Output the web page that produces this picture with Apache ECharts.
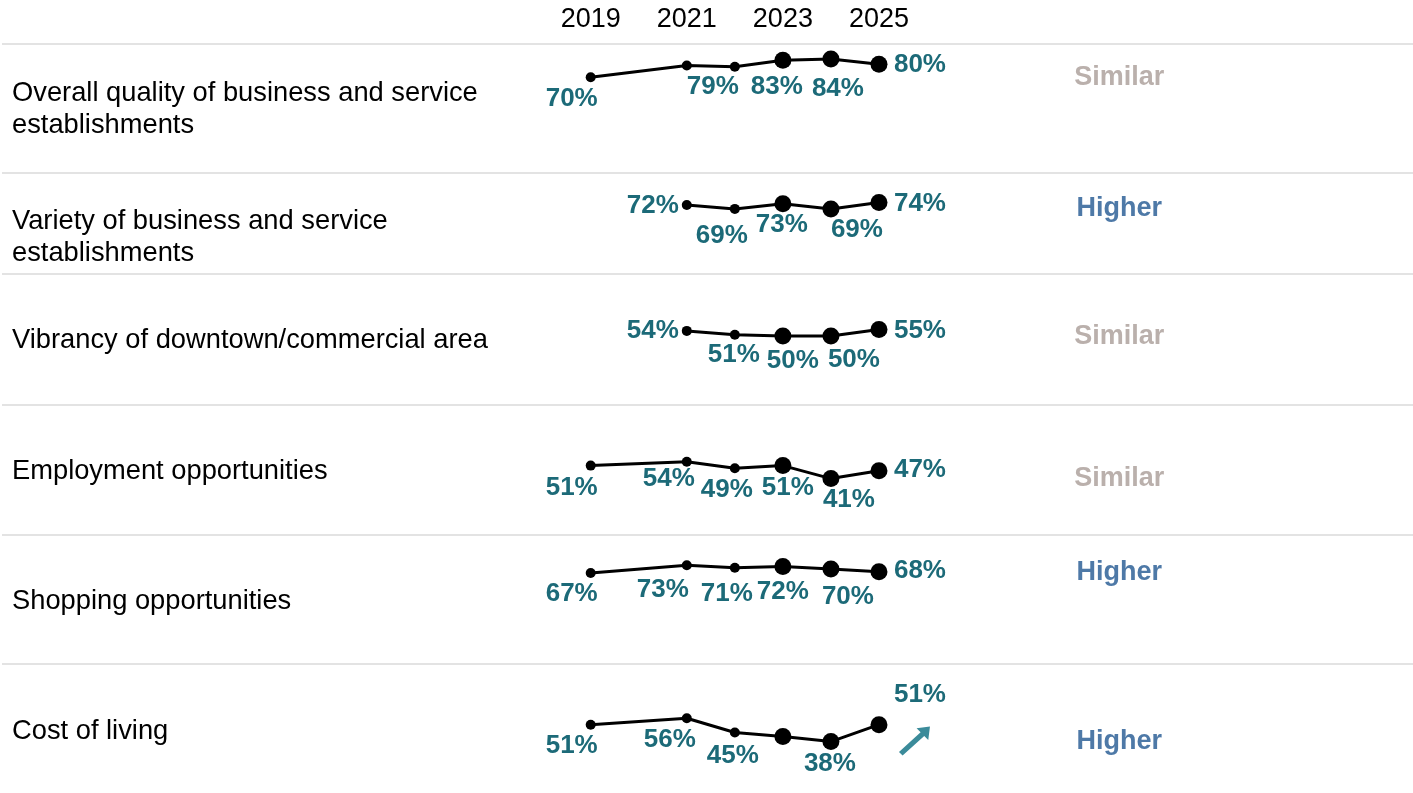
<!DOCTYPE html>
<html>
<head>
<meta charset="utf-8">
<script src="https://cdn.jsdelivr.net/npm/echarts@6/dist/echarts.min.js"></script>
<style>
  html, body { margin: 0; padding: 0; background: #fff; }
  #chart { width: 1413px; height: 793px; }
</style>
</head>
<body>
<div id="chart"></div>
<script>
// survey years (2020 not asked) and the year ticks printed on top
var years = [2019, 2021, 2022, 2023, 2024, 2025];
var yearTicks = [2019, 2021, 2023, 2025];

var items = [
  'Overall quality of business and service\nestablishments',
  'Variety of business and service\nestablishments',
  'Vibrancy of downtown/commercial area',
  'Employment opportunities',
  'Shopping opportunities',
  'Cost of living'
];

// % rating excellent/good, one value per survey year
var overallQuality = [70, 79, 78, 83, 84, 80];
var variety = [null, 72, 69, 73, 69, 74];
var vibrancy = [null, 54, 51, 50, 50, 55];
var employment = [51, 54, 49, 51, 41, 47];
var shopping = [67, 73, 71, 72, 70, 68];
var costOfLiving = [51, 56, 45, 42, 38, 51];
var rows = [overallQuality, variety, vibrancy, employment, shopping, costOfLiving];

// comparison to national benchmark
var comparison = ['Similar', 'Higher', 'Similar', 'Similar', 'Higher', 'Higher'];
var comparisonX = 2030;
// points whose value is not printed: [row, year index]
var unlabelled = [[0, 2], [5, 3]];
// trend arrow: [row, year]
var arrowAt = [5, 2025];

// --- layout ---
var font = '"Liberation Sans", Arial, Helvetica, sans-serif';
var valueColor = '#1c6a78';
var compColors = { Similar: '#bab0ac', Higher: '#4e79a7' };
var gridTops = [38.2, 168.6, 271.1, 401.9, 530.1, 661];
var ruleYs = [44, 173, 274, 405, 535, 664];
var textYs = [109.8, 237, 340, 471, 601, 731];
var labelOffsets = [
  [[-19, 22], [26, 21], null, [-6, 27], [7, 30], [41, 1]],
  [null, [-34, 1], [-13, 27], [-1, 21], [26, 21], [41, 1]],
  [null, [-34, 0], [-1, 20], [10, 25], [23, 24], [41, 1]],
  [[-19, 22], [-18, 17], [-8, 22], [5, 22], [18, 21], [41, -1]],
  [[-19, 21], [-24, 25], [-8, 26], [0, 25], [17, 28], [41, -1]],
  [[-19, 21], [-17, 22], [-2, 23], null, [-1, 22], [41, -30]]
];
var arrowPath = 'path://M0.2 25.2L21.7 5.7L17.7 1.6L31 0L29.3 13.3L25.3 9.3L3.8 28.8Z';

var chart = echarts.init(document.getElementById('chart'), null, { renderer: 'canvas' });

var grids = [], xAxes = [], yAxes = [], series = [], graphics = [];

rows.forEach(function(vals, r) {
  grids.push({ left: 590.7, width: 528.5, top: gridTops[r], height: 130 });
  xAxes.push({
    gridIndex: r, type: 'value', min: 2019, max: 2030, interval: 1,
    position: 'top', show: r === 0,
    axisLine: { show: false }, axisTick: { show: false }, splitLine: { show: false },
    axisLabel: {
      show: r === 0, margin: 5, fontSize: 27, color: '#000', fontFamily: font,
      formatter: function(v) { return yearTicks.indexOf(v) >= 0 ? String(v) : ''; }
    }
  });
  yAxes.push({ gridIndex: r, type: 'value', min: 0, max: 100, show: false, splitLine: { show: false } });

  var data = [];
  vals.forEach(function(v, i) {
    if (v === null) return;
    var hidden = unlabelled.some(function(u) { return u[0] === r && u[1] === i; });
    data.push({
      value: [years[i], v],
      symbolSize: years[i] >= 2023 ? 17 : 10,
      label: { show: !hidden, offset: labelOffsets[r][i] || [0, 0] }
    });
  });

  var s = {
    type: 'line', xAxisIndex: r, yAxisIndex: r, data: data,
    symbol: 'circle', showSymbol: true, silent: true,
    lineStyle: { color: '#000', width: 3 },
    itemStyle: { color: '#000' },
    emphasis: { disabled: true },
    label: {
      show: true, position: 'inside', color: valueColor, fontSize: 26,
      fontWeight: 'bold', fontFamily: font,
      formatter: function(p) { return p.value[1] + '%'; }
    }
  };
  if (arrowAt[0] === r) {
    var ai = years.indexOf(arrowAt[1]);
    s.markPoint = {
      silent: true,
      symbol: arrowPath,
      itemStyle: { color: '#3b8b9a' },
      label: { show: false },
      data: [{ coord: [arrowAt[1], vals[ai]], symbolSize: [31, 29], symbolOffset: [35.5, 16.4] }]
    };
  }
  series.push(s);

  // benchmark comparison, set at the row's lowest value
  var lowest = Math.min.apply(null, vals.filter(function(v) { return v !== null; }));
  series.push({
    type: 'scatter', xAxisIndex: r, yAxisIndex: r, silent: true,
    data: [[comparisonX, lowest]], symbolSize: 1,
    itemStyle: { color: 'transparent', opacity: 1 },
    emphasis: { disabled: true },
    label: {
      show: true, position: 'inside', fontSize: 27, fontWeight: 'bold', fontFamily: font,
      color: compColors[comparison[r]], opacity: 1,
      formatter: function() { return comparison[r]; }
    }
  });

  graphics.push({
    type: 'line', silent: true,
    shape: { x1: 2, y1: ruleYs[r], x2: 1413, y2: ruleYs[r] },
    style: { stroke: '#dadada', lineWidth: 1.5 }
  });
  graphics.push({
    type: 'text', silent: true,
    style: {
      text: items[r], x: 12, y: textYs[r], fill: '#000',
      font: '27.3px ' + font, verticalAlign: 'middle', lineHeight: 32
    }
  });
});

chart.setOption({
  animation: false,
  grid: grids,
  xAxis: xAxes,
  yAxis: yAxes,
  series: series,
  graphic: graphics
});
window.addEventListener('resize', function() { chart.resize(); });
</script>
</body>
</html>
